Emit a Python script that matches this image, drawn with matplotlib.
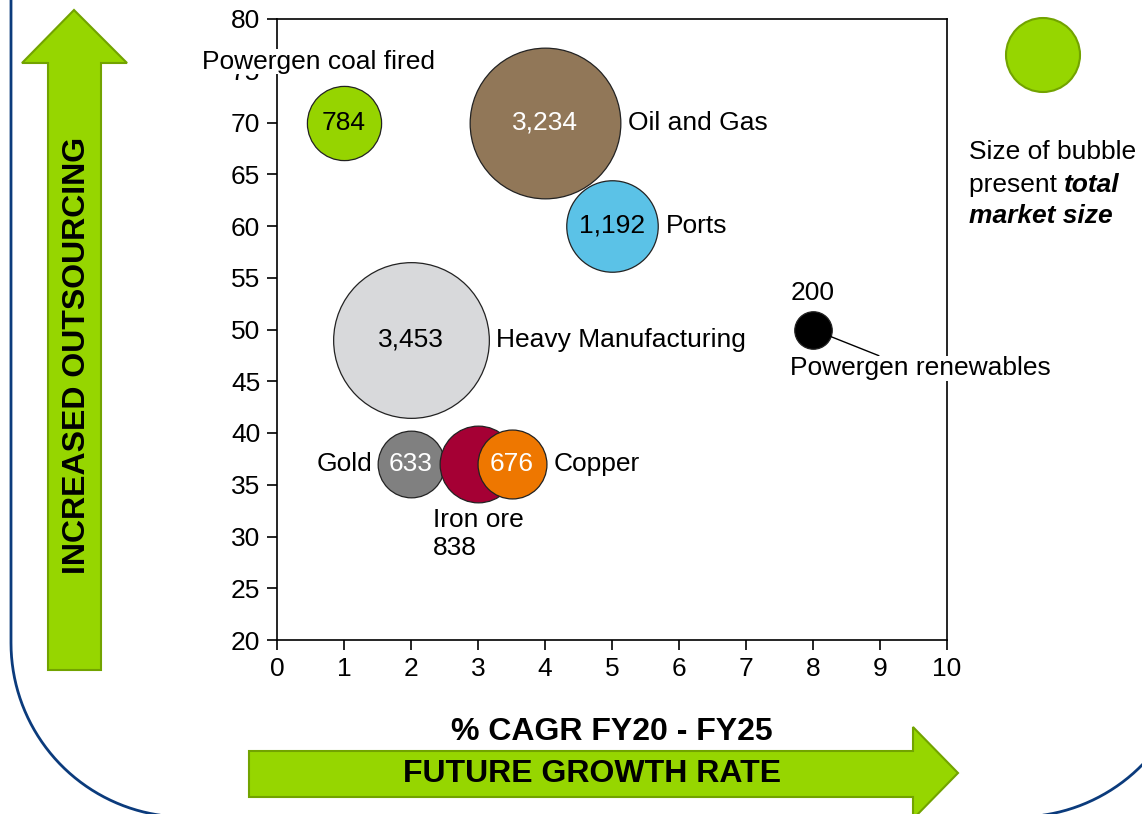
import numpy as np
import matplotlib
matplotlib.use('Agg')
import matplotlib.pyplot as plt
from matplotlib.patches import Polygon, Ellipse
from matplotlib.lines import Line2D

plt.rcParams['font.family'] = ['Liberation Sans', 'DejaVu Sans']

# market segments: growth (% CAGR), outsourcing level, market size
names = ['Powergen coal fired', 'Oil and Gas', 'Ports', 'Heavy Manufacturing',
         'Gold', 'Iron ore', 'Copper', 'Powergen renewables']
growth = [1, 4, 5, 2, 2, 3, 3.5, 8]
outsourcing = [70, 70, 60, 49, 37, 37, 37, 50]
market_size = [784, 3234, 1192, 3453, 633, 838, 676, 200]
colors = ['#96D400', '#917758', '#5BC2E7', '#D8D9DB', '#808080', '#A50034', '#EE7700', '#000000']
value_colors = ['black', 'white', 'black', 'black', 'white', 'white', 'white', 'black']

x_ticks = np.arange(0, 11, 1)
y_ticks = np.arange(20, 81, 5)

W, H = 1142, 814
fig = plt.figure(figsize=(W / 100, H / 100), dpi=100)


def px(x, y):
    # pixel position (origin top-left) -> figure fraction
    return (x / W, 1 - y / H)


FS = 19

ax = fig.add_axes([277 / W, 1 - 640 / H, 670 / W, 621 / H])
ax.set_xlim(0, 10)
ax.set_ylim(20, 80)
ax.set_xticks(x_ticks)
ax.set_yticks(y_ticks)
ax.tick_params(direction='out', length=7, width=1.2, labelsize=FS, pad=5, colors='black')
for s in ax.spines.values():
    s.set_linewidth(1.2)

# bubble area proportional to market size
sizes = [3.64 * v for v in market_size]
for i in range(len(names)):
    ax.scatter(growth[i], outsourcing[i], s=sizes[i], color=colors[i],
               edgecolor='#222222', linewidth=0.9, zorder=4 + i, clip_on=False)

# value labels inside bubbles
for i in range(len(names)):
    if names[i] == 'Powergen renewables' or names[i] == 'Iron ore':
        continue
    ax.text(growth[i], outsourcing[i], f'{market_size[i]:,}', ha='center', va='center',
            fontsize=FS, color=value_colors[i], zorder=20)

# category labels
lab = dict(fontsize=FS, textcoords='offset pixels', zorder=25)
ax.annotate(names[0], (growth[0], outsourcing[0]), xytext=(-26, 61), ha='center', va='center',
            bbox=dict(facecolor='white', edgecolor='none', pad=0.5), **lab)
ax.annotate(names[1], (growth[1], outsourcing[1]), xytext=(83, 0), ha='left', va='center', **lab)
ax.annotate(names[2], (growth[2], outsourcing[2]), xytext=(54, 0), ha='left', va='center', **lab)
ax.annotate(names[3], (growth[3], outsourcing[3]), xytext=(85, 0), ha='left', va='center', **lab)
ax.annotate(names[4], (growth[4], outsourcing[4]), xytext=(-39, 0), ha='right', va='center', **lab)
ax.annotate(f'{names[5]}\n{market_size[5]:,}', (growth[5], outsourcing[5]), xytext=(-45, -44),
            ha='left', va='top', linespacing=1.2, **lab)
ax.annotate(names[6], (growth[6], outsourcing[6]), xytext=(42, 0), ha='left', va='center', **lab)
ax.annotate(f'{market_size[7]:,}', (growth[7], outsourcing[7]), xytext=(0, 36),
            ha='center', va='center', **lab)
ax.annotate(names[7], (growth[7], outsourcing[7]), xytext=(107, -39), ha='center', va='center',
            bbox=dict(facecolor='white', edgecolor='none', pad=0.5),
            arrowprops=dict(arrowstyle='-', color='black', lw=1, shrinkA=0, shrinkB=13,
                            relpos=(0.35, 1.0)), **lab)

ax.set_xlabel('% CAGR FY20 - FY25', fontsize=23, fontweight='bold', labelpad=26)

# rounded frame around the chart
r = 174
t1 = np.linspace(np.pi, np.pi / 2, 40)
t2 = np.linspace(np.pi / 2, 0, 40)
fx = np.concatenate([[11], 185 + r * np.cos(t1), 1018 + r * np.cos(t2), [1192]])
fy = np.concatenate([[-20], 643 + r * np.sin(t1), 643 + r * np.sin(t2), [-20]])
frame = [px(a, b) for a, b in zip(fx, fy)]
fig.add_artist(Line2D([p[0] for p in frame], [p[1] for p in frame],
                      transform=fig.transFigure, color='#0B3B7C', lw=2))

# green arrows
green, green_edge = '#96D600', '#72A300'
up_arrow = [(48, 670), (48, 63), (22, 63), (74, 10), (127, 63), (101, 63), (101, 670)]
fig.add_artist(Polygon([px(*p) for p in up_arrow], closed=True, transform=fig.transFigure,
                       facecolor=green, edgecolor=green_edge, lw=1.5))
right_arrow = [(249, 751), (913, 751), (913, 727), (958, 773), (913, 819), (913, 797), (249, 797)]
fig.add_artist(Polygon([px(*p) for p in right_arrow], closed=True, transform=fig.transFigure,
                       facecolor=green, edgecolor=green_edge, lw=1.5))

fig.text(*px(77, 355), 'INCREASED OUTSOURCING', rotation=90, ha='center', va='center',
         fontsize=23, fontweight='bold')
fig.text(*px(592, 774), 'FUTURE GROWTH RATE', ha='center', va='center',
         fontsize=23, fontweight='bold')

# bubble size key
fig.add_artist(Ellipse(px(1043, 55), 74 / W, 74 / H, transform=fig.transFigure,
                       facecolor=green, edgecolor=green_edge, lw=1.5))
fig.text(*px(969, 152), 'Size of bubble', ha='left', va='center', fontsize=FS)
t_present = fig.text(*px(969, 185), 'present ', ha='left', va='center', fontsize=FS)
renderer = fig.canvas.get_renderer()
bb = t_present.get_window_extent(renderer=renderer)
fig.text(bb.x1 / W, 1 - 185 / H, 'total', ha='left', va='center', fontsize=FS,
         fontweight='bold', fontstyle='italic')
fig.text(*px(969, 216), 'market size', ha='left', va='center', fontsize=FS,
         fontweight='bold', fontstyle='italic')

fig.savefig('out.png', dpi=100)
